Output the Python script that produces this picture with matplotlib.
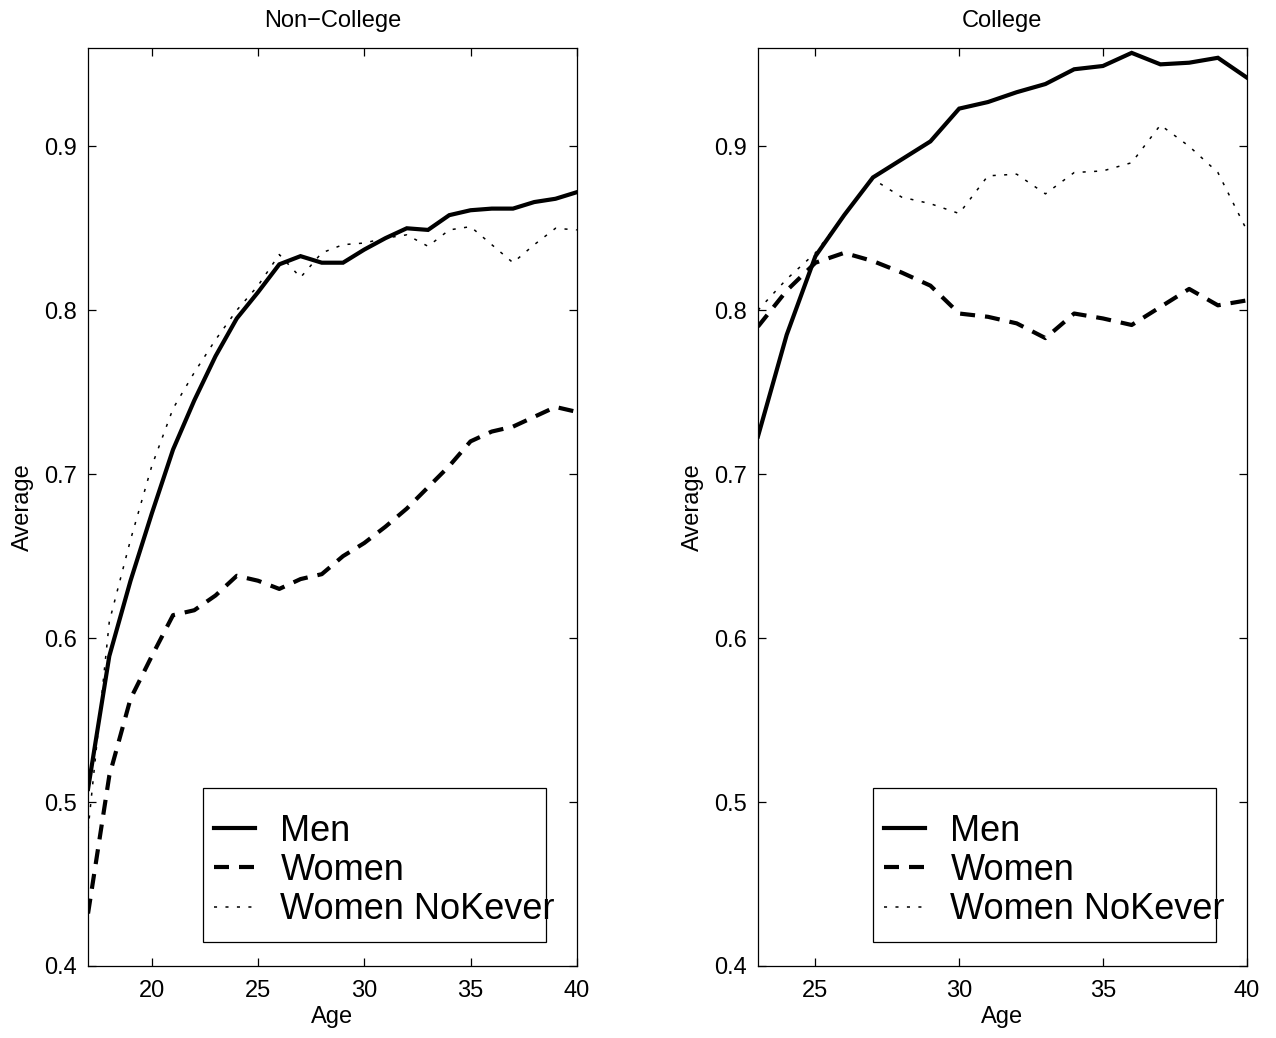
import numpy as np
import matplotlib
matplotlib.use("Agg")
import matplotlib.pyplot as plt
from matplotlib.patches import Rectangle

plt.rcParams["font.family"] = ["Liberation Sans", "DejaVu Sans"]

# ---------------- data ----------------
age_nc = list(range(17, 41))
men_nc = [0.508, 0.589, 0.635, 0.676, 0.715, 0.745, 0.772, 0.795, 0.811, 0.828,
          0.833, 0.829, 0.829, 0.837, 0.844, 0.850, 0.849, 0.858, 0.861, 0.862,
          0.862, 0.866, 0.868, 0.872]
women_nc = [0.432, 0.516, 0.563, 0.589, 0.614, 0.617, 0.626, 0.638, 0.635, 0.630,
            0.636, 0.639, 0.650, 0.658, 0.668, 0.679, 0.692, 0.705, 0.720, 0.726,
            0.729, 0.735, 0.741, 0.738]
nokever_nc = [0.483, 0.610, 0.660, 0.705, 0.740, 0.762, 0.782, 0.800, 0.815, 0.834,
              0.820, 0.835, 0.840, 0.841, 0.844, 0.846, 0.839, 0.849, 0.851, 0.840,
              0.829, 0.840, 0.850, 0.849]

age_c = list(range(23, 41))
men_c = [0.723, 0.785, 0.833, 0.858, 0.881, 0.892, 0.903, 0.923, 0.927, 0.933,
         0.938, 0.947, 0.949, 0.957, 0.950, 0.951, 0.954, 0.942]
women_c = [0.790, 0.812, 0.829, 0.835, 0.830, 0.823, 0.815, 0.798, 0.796, 0.792,
           0.783, 0.798, 0.795, 0.791, 0.802, 0.813, 0.803, 0.806]
nokever_c = [0.800, 0.819, 0.835, 0.858, 0.880, 0.869, 0.865, 0.859, 0.882, 0.883,
             0.871, 0.884, 0.885, 0.890, 0.913, 0.900, 0.884, 0.849]

labels = ["Men", "Women", "Women NoKever"]
yticks = [0.4, 0.5, 0.6, 0.7, 0.8, 0.9]


def draw_panel(ax, age, men, women, nokever, title, xlim, xticks):
    ax.plot(age, men, "-", color="black", lw=3.0, solid_joinstyle="miter",
            label=labels[0])
    ax.plot(age, women, color="black", lw=3.0, linestyle=(0, (3.6, 2.4)),
            dash_capstyle="butt", label=labels[1])
    ax.plot(age, nokever, color="black", lw=1.1, linestyle=(0, (2.0, 5.5)),
            dash_capstyle="butt", label=labels[2])

    ax.set_xlim(*xlim)
    ax.set_ylim(0.4, 0.96)
    ax.set_xticks(xticks)
    ax.set_yticks(yticks)
    ax.tick_params(direction="in", length=6, width=0.9, top=True, right=True,
                   labelsize=17)
    ax.tick_params(axis="x", pad=10)
    ax.tick_params(axis="y", pad=8)
    for s in ax.spines.values():
        s.set_linewidth(0.9)
    ax.set_title(title, fontsize=17, pad=15)
    ax.set_xlabel("Age", fontsize=17, labelpad=3)
    ax.set_ylabel("Average", fontsize=17, labelpad=7)

    # MATLAB style legend box (text runs past the border)
    x0, y0, w, h = 0.235, 0.026, 0.702, 0.168
    ax.add_patch(Rectangle((x0, y0), w, h, transform=ax.transAxes, fill=False,
                           lw=0.9, edgecolor="black", zorder=5))
    ax.legend(loc="upper left", bbox_to_anchor=(x0 + 0.022, y0 + h - 0.028),
              frameon=False, fontsize=26, handlelength=1.15, handletextpad=0.7,
              labelspacing=0.12, borderaxespad=0, borderpad=0.0)


fig = plt.figure(figsize=(12.76, 10.38), dpi=100)
ax1 = fig.add_axes([0.069, 0.0694, 0.383, 0.8844])
ax2 = fig.add_axes([0.594, 0.0694, 0.383, 0.8844])

draw_panel(ax1, age_nc, men_nc, women_nc, nokever_nc, "Non\u2212College",
           (17, 40), [20, 25, 30, 35, 40])
draw_panel(ax2, age_c, men_c, women_c, nokever_c, "College",
           (23, 40), [25, 30, 35, 40])

fig.savefig("out.png", dpi=100)
